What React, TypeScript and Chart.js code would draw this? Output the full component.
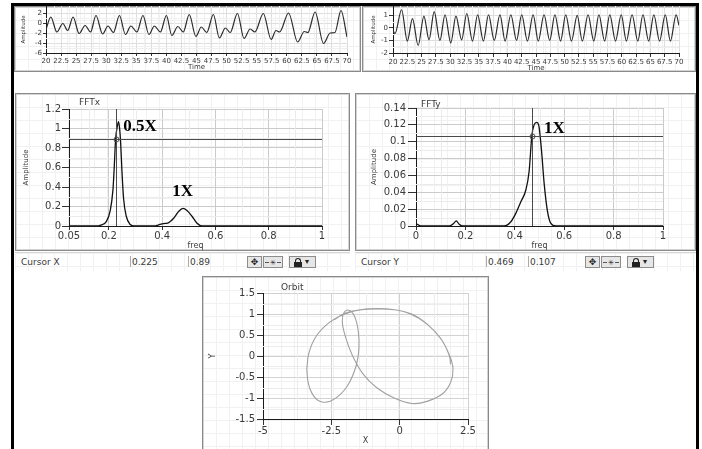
import React, { useEffect, useRef } from "react";
import { Chart, registerables } from "chart.js";

Chart.register(...registerables);

const FONT = '"DejaVu Sans", Verdana, sans-serif';
Chart.defaults.font.family = FONT;

// ===== time-domain signals =====
const TIME_TICKS = [20, 22.5, 25, 27.5, 30, 32.5, 35, 37.5, 40, 42.5, 45, 47.5, 50, 52.5, 55, 57.5, 60, 62.5, 65, 67.5, 70];

const SIGX_Y_TICKS = [-6, -4, -2, 0, 2];
const SIGX_T = [
  20.0, 20.8, 21.8, 22.8, 23.6, 24.5, 25.5, 26.5, 27.4, 28.3, 29.4, 30.3, 31.2,
  32.2, 33.2, 34.1, 35.1, 36.1, 37.1, 38.0, 39.0, 40.0, 40.9, 41.9, 42.8, 43.8,
  44.9, 45.8, 46.7, 47.8, 48.8, 49.8, 50.6, 51.8, 52.9, 53.9, 54.7, 56.1, 57.4,
  58.2, 58.8, 60.3, 61.8, 62.9, 63.5, 64.7, 66.1, 67.2, 68.0, 69.0, 70.0,
];
const SIGX_V = [
  -1.3, 1.2, -1.8, -0.1, -1.5, 1.2, -2.1, -0.5, -1.8, 1.5, -2.2, -0.6, -1.9,
  1.5, -2.3, -0.6, -1.8, 1.5, -2.3, -0.6, -1.8, 1.5, -2.5, -0.7, -1.8, 1.7,
  -2.7, -0.8, -1.9, 1.7, -3.0, -1.0, -1.9, 1.9, -3.1, -1.2, -1.8, 1.9, -3.3,
  -1.5, -1.8, 2.0, -3.8, -1.7, -1.9, 2.2, -4.1, -2.0, -1.9, 2.5, -2.8,
];

const SIGY_Y_TICKS = [-2, -1, 0, 1];
const SIGY_T = [
  20.0, 20.35, 21.5, 22.5, 23.4, 24.4, 25.4, 26.3, 27.2, 28.2, 29.1, 30.1,
  31.0, 32.0, 32.9, 33.9, 34.8, 35.8, 36.7, 37.7, 38.7, 39.6, 40.6, 41.6,
  42.5, 43.5, 44.5, 45.4, 46.4, 47.4, 48.3, 49.3, 50.2, 51.2, 52.2, 53.1,
  54.1, 55.1, 56.0, 57.0, 57.9, 58.9, 59.9, 60.8, 61.8, 62.8, 63.7, 64.7,
  65.6, 66.6, 67.6, 68.5, 69.5, 70.0,
];
const SIGY_V = [
  -0.2, -0.45, 1.45, -1.05, 0.75, -1.4, 0.95, -0.95, 1.3, -1.0, 1.05, -1.2,
  0.95, -0.95, 1.15, -1.05, 1.05, -1.05, 1.05, -1.0, 1.05, -1.05, 1.05, -1.0,
  1.05, -1.05, 1.05, -1.05, 1.05, -1.0, 1.05, -1.05, 1.05, -1.05, 1.0, -1.05,
  1.05, -1.05, 1.05, -1.05, 1.05, -1.05, 1.05, -1.05, 1.05, -1.05, 1.05, -1.05,
  1.05, -1.05, 1.05, -1.05, 1.05, 0.2,
];

// ===== spectra =====
const FFTX_X_TICKS = [0.05, 0.2, 0.4, 0.6, 0.8, 1];
const FFTX_Y_TICKS = [0, 0.2, 0.4, 0.6, 0.8, 1, 1.2];
const FFTX_FREQ = [0.05, 0.15, 0.17, 0.19, 0.205, 0.215, 0.22, 0.225, 0.232, 0.236, 0.24, 0.244, 0.249, 0.255, 0.265, 0.28, 0.295, 0.37, 0.385, 0.405, 0.42, 0.443, 0.462, 0.478, 0.493, 0.512, 0.53, 0.55, 1.0];
const FFTX_AMP = [0, 0, 0.01, 0.045, 0.16, 0.37, 0.61, 0.89, 1.03, 1.07, 1.0, 0.85, 0.55, 0.28, 0.1, 0.015, 0, 0, 0.01, 0.025, 0.03, 0.08, 0.15, 0.18, 0.16, 0.1, 0.03, 0, 0];
const CURSOR_X = [0.225, 0.89];

const FFTY_X_TICKS = [0, 0.2, 0.4, 0.6, 0.8, 1];
const FFTY_Y_TICKS = [0, 0.02, 0.04, 0.06, 0.08, 0.1, 0.12, 0.14];
const FFTY_FREQ = [0, 0.02, 0.135, 0.152, 0.163, 0.175, 0.19, 0.357, 0.384, 0.404, 0.425, 0.445, 0.458, 0.469, 0.478, 0.489, 0.498, 0.508, 0.519, 0.532, 0.546, 0.566, 1.0];
const FFTY_AMP = [0.003, 0, 0, 0.003, 0.006, 0.002, 0, 0, 0.005, 0.015, 0.029, 0.043, 0.065, 0.107, 0.12, 0.123, 0.118, 0.09, 0.05, 0.018, 0.003, 0, 0];
const CURSOR_Y = [0.469, 0.107];

// ===== orbit =====
const ORBIT_X_TICKS = [-5, -2.5, 0, 2.5];
const ORBIT_Y_TICKS = [-1.5, -1, -0.5, 0, 0.5, 1, 1.5];
const ORBIT_X = [-2.4, -2.0, -1.4, -0.85, -0.2, 0.4, 1.0, 1.5, 1.82, 1.95, 1.87, 1.57, 1.0, 0.45, -0.2, -0.85, -1.35, -1.72, -1.98, -2.1, -2.03, -1.86, -1.66, -1.52, -1.49, -1.6, -1.92, -2.38, -2.8, -3.15, -3.37, -3.36, -3.12, -2.68, -2.08, -1.45, -0.82, -0.18, 0.44, 1.04, 1.54, 1.82, 1.86];
const ORBIT_Y = [0.86, 1.02, 1.1, 1.12, 1.1, 1.0, 0.76, 0.42, 0.02, -0.3, -0.62, -0.9, -1.08, -1.13, -1.0, -0.75, -0.42, 0.0, 0.45, 0.82, 1.04, 1.09, 0.96, 0.62, 0.2, -0.25, -0.72, -1.02, -1.1, -0.95, -0.55, -0.05, 0.4, 0.74, 0.98, 1.1, 1.13, 1.1, 1.0, 0.74, 0.38, 0.0, -0.2];

type Spec = {
  left: number; top: number; w: number; h: number;
  yW: number; xH: number; padTop: number; padRight: number;
  xMin: number; xMax: number; yMin: number; yMax: number;
  xTicks: number[]; yTicks: number[];
  xs: number[]; ys: number[];
  color: string; lw: number; mono: boolean;
  tickSize: number; xTickLen: number; yTickLen: number; xTickPad: number; yTickPad: number;
  xTitle: string; yTitle: string; xTitleSize: number; yTitleSize: number; xTitlePad: number; yTitlePad: number;
  grid: string; minor: string;
  title?: string; titleDx?: number; titleDy?: number;
  cursor?: number[];
  notes?: { text: string; x: number; y: number }[];
};

function axis(dir: "x" | "y", s: Spec) {
  const isX = dir === "x";
  const ticks = isX ? s.xTicks : s.yTicks;
  return {
    type: "linear",
    position: isX ? "bottom" : "left",
    min: isX ? s.xMin : s.yMin,
    max: isX ? s.xMax : s.yMax,
    afterBuildTicks: (sc: any) => {
      sc.ticks = ticks.map((v) => ({ value: v }));
    },
    afterFit: (sc: any) => {
      if (isX) {
        sc.height = s.xH;
        sc.paddingLeft = 0;
        sc.paddingRight = 0;
      } else {
        sc.width = s.yW;
        sc.paddingTop = 0;
        sc.paddingBottom = 0;
      }
    },
    ticks: {
      autoSkip: false, maxRotation: 0, minRotation: 0,
      padding: isX ? s.xTickPad : s.yTickPad,
      color: "#3a3a3a",
      font: { family: FONT, size: s.tickSize },
      callback: (v: number) => String(v),
    },
    grid: {
      color: s.grid, lineWidth: 1, drawTicks: true,
      tickLength: isX ? s.xTickLen : s.yTickLen, tickColor: "#333", tickWidth: 1,
    },
    border: { display: true, color: "#1a1a1a", width: 1 },
    title: {
      display: true,
      text: isX ? s.xTitle : s.yTitle,
      color: "#3a3a3a",
      font: { family: FONT, size: isX ? s.xTitleSize : s.yTitleSize, lineHeight: 1.2 },
      padding: isX ? { top: 0, bottom: s.xTitlePad } : { top: s.yTitlePad, bottom: 0 },
    },
  };
}

function overlay(s: Spec) {
  return {
    id: "overlay",
    beforeDatasetsDraw(chart: any) {
      const { ctx, chartArea: a, scales } = chart;
      const mid = (arr: number[]) => arr.slice(1).map((v, i) => (v + arr[i]) / 2);
      ctx.save();
      ctx.strokeStyle = s.minor;
      ctx.lineWidth = 1;
      ctx.beginPath();
      for (const v of mid(s.xTicks)) {
        const p = Math.round(scales.x.getPixelForValue(v)) + 0.5;
        ctx.moveTo(p, a.top);
        ctx.lineTo(p, a.bottom);
      }
      for (const v of mid(s.yTicks)) {
        const p = Math.round(scales.y.getPixelForValue(v)) + 0.5;
        ctx.moveTo(a.left, p);
        ctx.lineTo(a.right, p);
      }
      ctx.stroke();
      ctx.restore();
    },
    afterDatasetsDraw(chart: any) {
      const { ctx, chartArea: a, scales } = chart;
      ctx.save();
      if (s.cursor) {
        const cx = Math.round(scales.x.getPixelForValue(s.cursor[0])) + 0.5;
        const cy = Math.round(scales.y.getPixelForValue(s.cursor[1])) + 0.5;
        ctx.strokeStyle = "#4a4a4a";
        ctx.lineWidth = 1;
        ctx.beginPath();
        ctx.moveTo(cx, a.top);
        ctx.lineTo(cx, a.bottom);
        ctx.moveTo(a.left, cy);
        ctx.lineTo(a.right, cy);
        ctx.stroke();
        ctx.beginPath();
        ctx.arc(cx, cy, 2.5, 0, Math.PI * 2);
        ctx.stroke();
      }
      if (s.notes) {
        ctx.font = 'bold 17px "Liberation Serif", serif';
        ctx.fillStyle = "#000";
        ctx.textBaseline = "middle";
        ctx.textAlign = "left";
        for (const n of s.notes) {
          ctx.fillText(n.text, scales.x.getPixelForValue(n.x), scales.y.getPixelForValue(n.y));
        }
      }
      if (s.title) {
        ctx.font = `9px ${FONT}`;
        ctx.fillStyle = "#3a3a3a";
        ctx.textBaseline = "middle";
        ctx.textAlign = "left";
        ctx.fillText(s.title, a.left + (s.titleDx || 0), a.top + (s.titleDy || 0));
      }
      ctx.restore();
    },
  };
}

function makeConfig(s: Spec): any {
  const pts = s.xs.map((x, i) => ({ x, y: s.ys[i] }));
  return {
    type: "scatter",
    data: {
      datasets: [
        {
          data: pts,
          showLine: true,
          borderColor: s.color,
          borderWidth: s.lw,
          pointRadius: 0,
          pointHoverRadius: 0,
          fill: false,
          tension: s.mono ? 0 : 0.4,
          cubicInterpolationMode: s.mono ? "monotone" : "default",
        },
      ],
    },
    options: {
      responsive: false,
      animation: false,
      devicePixelRatio: 1,
      events: [],
      layout: { padding: { top: s.padTop, right: s.padRight, left: 0, bottom: 0 } },
      plugins: { legend: { display: false }, tooltip: { enabled: false }, title: { display: false } },
      scales: { x: axis("x", s), y: axis("y", s) },
    },
    plugins: [overlay(s)],
  };
}

function Plot({ s }: { s: Spec }) {
  const ref = useRef<HTMLCanvasElement>(null);
  useEffect(() => {
    const c = new Chart(ref.current as HTMLCanvasElement, makeConfig(s));
    return () => c.destroy();
  }, []);
  return (
    <canvas
      ref={ref}
      width={s.w}
      height={s.h}
      style={{ position: "absolute", left: s.left, top: s.top, width: s.w, height: s.h }}
    />
  );
}

const SIGX_SPEC: Spec = {
  left: 15, top: 6, w: 346, h: 65, yW: 31, xH: 18, padTop: 0, padRight: 14,
  xMin: 20, xMax: 70, yMin: -6, yMax: 3.4, xTicks: TIME_TICKS, yTicks: SIGX_Y_TICKS,
  xs: SIGX_T, ys: SIGX_V, color: "#2b2b2b", lw: 1.2, mono: true,
  tickSize: 7, xTickLen: 3, yTickLen: 3, xTickPad: 1, yTickPad: 1,
  xTitle: "Time", yTitle: "Amplitude", xTitleSize: 7, yTitleSize: 5.5, xTitlePad: 0, yTitlePad: 5.7,
  grid: "#dedede", minor: "#efefef",
};

const SIGY_SPEC: Spec = {
  left: 363, top: 6, w: 333, h: 66, yW: 30, xH: 19, padTop: 0, padRight: 17,
  xMin: 20, xMax: 70, yMin: -2, yMax: 1.75, xTicks: TIME_TICKS, yTicks: SIGY_Y_TICKS,
  xs: SIGY_T, ys: SIGY_V, color: "#2b2b2b", lw: 1.2, mono: true,
  tickSize: 7, xTickLen: 4, yTickLen: 4, xTickPad: 1, yTickPad: 1,
  xTitle: "Time", yTitle: "Amplitude", xTitleSize: 7, yTitleSize: 5.5, xTitlePad: 0, yTitlePad: 7.7,
  grid: "#dedede", minor: "#efefef",
};

const FFTX_SPEC: Spec = {
  left: 15, top: 93, w: 335, h: 158, yW: 54, xH: 25, padTop: 16, padRight: 28,
  xMin: 0.05, xMax: 1, yMin: 0, yMax: 1.2, xTicks: FFTX_X_TICKS, yTicks: FFTX_Y_TICKS,
  xs: FFTX_FREQ, ys: FFTX_AMP, color: "#111", lw: 1.3, mono: true,
  tickSize: 10, xTickLen: 4, yTickLen: 7, xTickPad: 0, yTickPad: 1,
  xTitle: "freq", yTitle: "Amplitude", xTitleSize: 8, yTitleSize: 7, xTitlePad: 0, yTitlePad: 6.8,
  grid: "#cbcbcb", minor: "#ebebeb",
  title: "FFTx", titleDx: 10, titleDy: -6,
  cursor: CURSOR_X,
  notes: [
    { text: "0.5X", x: 0.2535, y: 1.015 },
    { text: "1X", x: 0.438, y: 0.349 },
  ],
};

const FFTY_SPEC: Spec = {
  left: 355, top: 93, w: 341, h: 158, yW: 61, xH: 25, padTop: 15, padRight: 33,
  xMin: 0, xMax: 1, yMin: 0, yMax: 0.14, xTicks: FFTY_X_TICKS, yTicks: FFTY_Y_TICKS,
  xs: FFTY_FREQ, ys: FFTY_AMP, color: "#111", lw: 1.3, mono: true,
  tickSize: 10, xTickLen: 4, yTickLen: 8, xTickPad: 0, yTickPad: 2,
  xTitle: "freq", yTitle: "Amplitude", xTitleSize: 8, yTitleSize: 7, xTitlePad: 0.7, yTitlePad: 14.8,
  grid: "#cbcbcb", minor: "#ebebeb",
  title: "FFTy", titleDx: 5, titleDy: -3,
  cursor: CURSOR_Y,
  notes: [{ text: "1X", x: 0.518, y: 0.116 }],
};

const ORBIT_SPEC: Spec = {
  left: 202, top: 276, w: 287, h: 173, yW: 61, xH: 30, padTop: 17, padRight: 21,
  xMin: -5, xMax: 2.5, yMin: -1.5, yMax: 1.5, xTicks: ORBIT_X_TICKS, yTicks: ORBIT_Y_TICKS,
  xs: ORBIT_X, ys: ORBIT_Y, color: "#a0a0a0", lw: 1.1, mono: false,
  tickSize: 10, xTickLen: 6, yTickLen: 6, xTickPad: 0, yTickPad: 2,
  xTitle: "X", yTitle: "Y", xTitleSize: 8, yTitleSize: 8, xTitlePad: 3.2, yTitlePad: 6.2,
  grid: "#d2d2d2", minor: "#ececec",
  title: "Orbit", titleDx: 18, titleDy: -5,
};

const gridBg = {
  backgroundColor: "#fff",
  backgroundImage:
    "linear-gradient(#f1f1f1 1px, transparent 1px), linear-gradient(90deg, #f1f1f1 1px, transparent 1px)",
  backgroundSize: "13px 13px",
};

function Panel({ left, top, w, h }: { left: number; top: number; w: number; h: number }) {
  return (
    <div
      style={{
        position: "absolute", left, top, width: w, height: h, boxSizing: "border-box",
        border: "1px solid #8a8a8a", boxShadow: "inset 0 0 0 1px #d4d4d4", ...gridBg,
      }}
    />
  );
}

const txt = (left: number, top: number, s: string, size = 9) => (
  <div style={{ position: "absolute", left, top, fontSize: size, lineHeight: "11px", color: "#3a3a3a", fontFamily: FONT, whiteSpace: "nowrap" }}>
    {s}
  </div>
);

function Btn({ left, top, w, children }: { left: number; top: number; w: number; children?: any }) {
  return (
    <div
      style={{
        position: "absolute", left, top, width: w, height: 12, boxSizing: "border-box",
        border: "1px solid #8c8c8c", background: "#e6e6e6", fontFamily: FONT,
        fontSize: 9, lineHeight: "10px", textAlign: "center", color: "#222", overflow: "hidden",
      }}
    >
      {children}
    </div>
  );
}

function CursorRow({ left, w, name, a, b, s1, s2, bx }: { left: number; w: number; name: string; a: string; b: string; s1: number; s2: number; bx: number }) {
  const top = 252;
  return (
    <>
      <div style={{ position: "absolute", left, top, width: w, height: 18, borderTop: "1px solid #d6d6d6", ...gridBg }} />
      {txt(left + 6, 257, name)}
      <div style={{ position: "absolute", left: s1, top: 256, width: 1, height: 11, background: "#aaa" }} />
      <div style={{ position: "absolute", left: s2, top: 256, width: 1, height: 11, background: "#aaa" }} />
      {txt(s1 + 2, 257, a)}
      {txt(s2 + 2, 257, b)}
      <Btn left={bx} top={256} w={15}>✥</Btn>
      <Btn left={bx + 16} top={256} w={20}>
        <div style={{ position: "absolute", left: 1, right: 1, top: 5, height: 1, background: "#555" }} />
        <div style={{ position: "relative", fontSize: 7, background: "#e6e6e6", display: "inline-block", lineHeight: "10px", padding: "0 1px" }}>✳</div>
      </Btn>
      <Btn left={bx + 42} top={256} w={27}>
        <div style={{ position: "absolute", left: 5, top: 1, width: 4, height: 4, border: "1px solid #222", borderBottom: "none", borderRadius: "3px 3px 0 0" }} />
        <div style={{ position: "absolute", left: 4, top: 5, width: 8, height: 5, background: "#222" }} />
        <div style={{ position: "absolute", left: 15, top: 0, fontSize: 8, lineHeight: "10px" }}>▾</div>
      </Btn>
    </>
  );
}

export default function App() {
  return (
    <div style={{ position: "fixed", left: 0, top: 0, width: 702, height: 449, background: "#fff", overflow: "hidden", fontFamily: FONT }}>
      <Panel left={14} top={6} w={347} h={66} />
      <Panel left={362} top={6} w={334} h={66} />
      <Panel left={15} top={93} w={335} h={158} />
      <Panel left={355} top={93} w={341} h={158} />
      <Panel left={202} top={276} w={287} h={180} />

      <CursorRow left={15} w={335} name="Cursor X" a="0.225" b="0.89" s1={130} s2={188} bx={247} />
      <CursorRow left={355} w={341} name="Cursor Y" a="0.469" b="0.107" s1={486} s2={528} bx={585} />

      <Plot s={SIGX_SPEC} />
      <Plot s={SIGY_SPEC} />
      <Plot s={FFTX_SPEC} />
      <Plot s={FFTY_SPEC} />
      <Plot s={ORBIT_SPEC} />

      <div style={{ position: "absolute", left: 11, top: 3, width: 688, height: 3, background: "#000" }} />
      <div style={{ position: "absolute", left: 11, top: 3, width: 3, height: 446, background: "#000" }} />
      <div style={{ position: "absolute", left: 696, top: 3, width: 3, height: 446, background: "#000" }} />
    </div>
  );
}
